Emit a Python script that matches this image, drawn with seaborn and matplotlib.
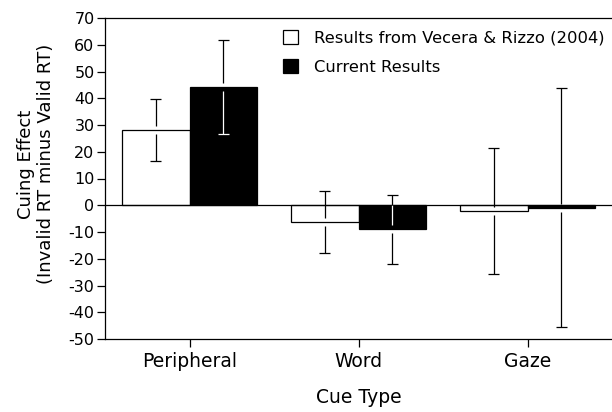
import matplotlib
matplotlib.use("Agg")
import matplotlib.pyplot as plt
import seaborn as sns
import pandas as pd

categories = ["Peripheral", "Word", "Gaze"]
series = ["Results from Vecera & Rizzo (2004)", "Current Results"]
vecera = [28.2, -6.3, -2.2]
vecera_err = [11.6, 11.5, 23.6]
current = [44.2, -9.0, -0.9]
current_err = [17.6, 12.9, 44.8]
yticks = [-50, -40, -30, -20, -10, 0, 10, 20, 30, 40, 50, 60, 70]

sns.set_style("ticks")
plt.rcParams["font.family"] = ["DejaVu Sans"]
plt.rcParams["text.color"] = "black"
plt.rcParams["axes.labelcolor"] = "black"
plt.rcParams["xtick.color"] = "black"
plt.rcParams["ytick.color"] = "black"

df = pd.DataFrame({
    "Cue Type": categories * 2,
    "Series": [series[0]] * 3 + [series[1]] * 3,
    "Effect": vecera + current,
})
err_lookup = {(c, s): e for s, es in ((series[0], vecera_err), (series[1], current_err))
              for c, e in zip(categories, es)}

fig = plt.figure(figsize=(6.12, 4.12), dpi=100)
ax = fig.add_axes([105 / 612, 1 - 339 / 412, 1 - 105 / 612, (339 - 18) / 412])

sns.barplot(data=df, x="Cue Type", y="Effect", hue="Series", order=categories,
            hue_order=series, palette=["white", "black"], edgecolor="black",
            linewidth=0.9, width=0.8, errorbar=None, ax=ax, legend=True)

ax.axhline(0, color="black", lw=0.9, zorder=3)

# error bars: split at bar end, white inside black bars
g = 1.5
cap = 0.032
lw = 0.9
bars = [p for p in ax.patches if p.get_width() > 0 and p.get_height() != 0]
# seaborn 0.13 adds patches hue by hue, category by category
keys = [(c, s) for s in series for c in categories]
for p, key in zip(bars, keys):
    v = p.get_height()
    e = err_lookup[key]
    x = p.get_x() + p.get_width() / 2
    fc = p.get_facecolor()
    dark = sum(fc[:3]) < 1.5
    bmin, bmax = min(0, v), max(0, v)
    lo, hi = v - e, v + e
    segs = [(lo, v - g), (v + g, hi)]

    def col(y):
        return "white" if (dark and bmin < y < bmax) else "black"

    for a, b in segs:
        cuts = sorted(set([a, b] + [c for c in (bmin, bmax) if a < c < b]))
        for y0, y1 in zip(cuts[:-1], cuts[1:]):
            ax.vlines(x, y0, y1, color=col((y0 + y1) / 2), lw=lw, zorder=4)
    for yy in (lo, hi):
        ax.hlines(yy, x - cap, x + cap, color=col(yy), lw=lw, zorder=4)

ax.set_ylim(-50, 70)
ax.set_xlim(-0.5, 2.5)
ax.set_yticks(yticks)
ax.set_yticklabels([str(t) for t in yticks])
ax.tick_params(axis="y", labelsize=11.5, length=5.5, width=0.9, pad=2)
ax.tick_params(axis="x", labelsize=13.5, length=6, width=0.9, pad=3.5)
for sp in ["left", "bottom", "top"]:
    ax.spines[sp].set_linewidth(0.9)
    ax.spines[sp].set_color("black")
ax.spines["right"].set_visible(False)

ax.set_xlabel("Cue Type", fontsize=13.5, labelpad=12)
ax.set_ylabel("Cuing Effect\n(Invalid RT minus Valid RT)", fontsize=13,
              linespacing=1.15)
ax.yaxis.set_label_coords(-0.098, 0.545)

handles, labels = ax.get_legend_handles_labels()
ax.legend(handles, labels, loc="upper left", bbox_to_anchor=(283 / 612, 1 - 30 / 412),
          bbox_transform=fig.transFigure, frameon=False, fontsize=11.8,
          handlelength=0.9, handleheight=0.9, handletextpad=1.0, labelspacing=0.85,
          borderpad=0, borderaxespad=0)

fig.savefig("out.png", dpi=100)
